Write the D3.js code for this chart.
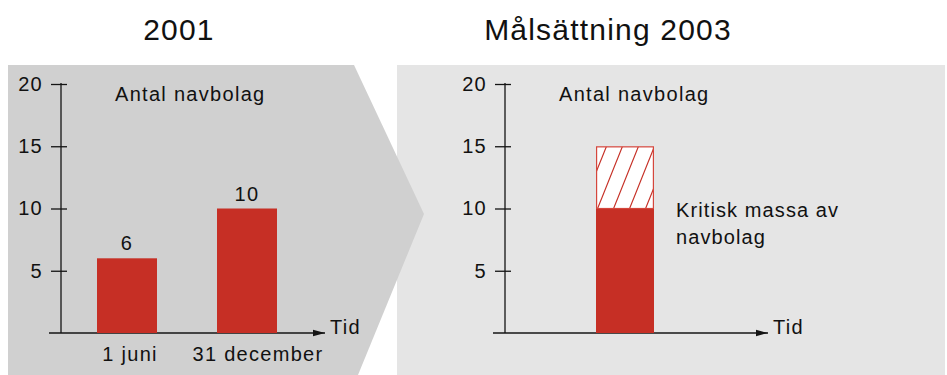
<!DOCTYPE html>
<html>
<head>
<meta charset="utf-8">
<script src="https://cdn.jsdelivr.net/npm/d3@7"></script>
<style>
  html, body { margin: 0; padding: 0; background: #ffffff; }
  svg { display: block; }
  text { font-family: "Liberation Sans", Arial, sans-serif; fill: #111; }
</style>
</head>
<body>
<svg id="chart" width="947" height="375"></svg>
<script>
// Number of hub companies ("navbolag") in 2001
const categories2001 = ["1 juni", "31 december"];
const values2001 = [6, 10];

// Target for 2003: current level plus the critical-mass increment
const category2003 = ["2003"];
const current2003 = [10];
const target2003 = [15];

const yTicks = [5, 10, 15, 20];
const titles = ["2001", "Målsättning 2003"];
const yAxisTitle = "Antal navbolag";
const xAxisTitle = "Tid";
const noteLines = ["Kritisk massa av", "navbolag"];

const RED = "#c62f25";
const INK = "#141414";
const FS = 20;
const LS = 1.3;

const svg = d3.select("#chart");

// Hatch pattern for the target increment
const defs = svg.append("defs");
defs.append("pattern")
  .attr("id", "hatch")
  .attr("patternUnits", "userSpaceOnUse")
  .attr("width", 16).attr("height", 40)
  .call(p => {
    p.append("rect").attr("width", 16).attr("height", 40).attr("fill", "#fff");
    p.append("path")
      .attr("d", "M0,40 L16,0 M-4,10 L4,-10 M12,50 L20,30")
      .attr("stroke", RED).attr("stroke-width", 1.2).attr("fill", "none");
  });
defs.append("marker")
  .attr("id", "arrow")
  .attr("viewBox", "0 0 12 8")
  .attr("refX", 12).attr("refY", 4)
  .attr("markerWidth", 12).attr("markerHeight", 8)
  .attr("markerUnits", "userSpaceOnUse")
  .attr("orient", "auto")
  .append("path").attr("d", "M0,0.8 L12,4 L0,7.2 Z").attr("fill", INK);

// Panel backgrounds: the right box sits behind the left arrow-shaped box
svg.append("rect")
  .attr("x", 397).attr("y", 65).attr("width", 548).attr("height", 310)
  .attr("fill", "#e5e5e5");
svg.append("path")
  .attr("d", "M8,65 L354,65 L424,214 L358,375 L8,375 Z")
  .attr("fill", "#d0d0d0");

// Panel titles
svg.selectAll("text.title")
  .data(titles)
  .join("text")
  .attr("class", "title")
  .attr("x", (d, i) => i === 0 ? 179 : 608)
  .attr("y", 40)
  .attr("text-anchor", "middle")
  .attr("font-size", 30)
  .attr("letter-spacing", 1.2)
  .text(d => d);

// Shared vertical scale
const y = d3.scaleLinear().domain([0, 20]).range([333, 84]);

function drawFrame(g, axisLen, xLeft) {
  // y axis with ticks crossing the line
  const yAxis = d3.axisLeft(y)
    .tickValues(yTicks)
    .tickSize(10)
    .tickPadding(8)
    .tickFormat(d3.format("d"));
  const ax = g.append("g").call(yAxis);
  ax.select(".domain").remove();
  ax.selectAll(".tick line")
    .attr("x1", -10).attr("x2", 6)
    .attr("stroke", INK).attr("stroke-width", 1.3);
  ax.selectAll(".tick text")
    .attr("font-family", "\"Liberation Sans\", Arial, sans-serif")
    .attr("font-size", FS)
    .attr("letter-spacing", LS)
    .attr("fill", INK);
  g.append("line")
    .attr("x1", 0).attr("x2", 0)
    .attr("y1", y(0)).attr("y2", y(20) - 1)
    .attr("stroke", INK).attr("stroke-width", 1.3);

  // x axis as an arrow
  g.append("line")
    .attr("x1", xLeft).attr("x2", axisLen)
    .attr("y1", y(0)).attr("y2", y(0))
    .attr("stroke", INK).attr("stroke-width", 1.3)
    .attr("marker-end", "url(#arrow)");
  g.append("text")
    .attr("x", axisLen + 5).attr("y", y(0) + 1)
    .attr("font-size", FS).attr("letter-spacing", LS)
    .text(xAxisTitle);

  g.append("text")
    .attr("x", 54).attr("y", 101)
    .attr("font-size", FS).attr("letter-spacing", LS)
    .text(yAxisTitle);
}

// ---- Left panel: 2001 ----
const gL = svg.append("g").attr("transform", "translate(61,0)");
const xL = d3.scaleBand()
  .domain(categories2001)
  .range([6, 246])
  .paddingInner(0.5)
  .paddingOuter(0.25);

drawFrame(gL, 264, -12);

gL.selectAll("rect.bar")
  .data(values2001)
  .join("rect")
  .attr("class", "bar")
  .attr("x", (d, i) => xL(categories2001[i]))
  .attr("width", xL.bandwidth())
  .attr("y", d => y(d))
  .attr("height", d => y(0) - y(d))
  .attr("fill", RED);

gL.selectAll("text.value")
  .data(values2001)
  .join("text")
  .attr("class", "value")
  .attr("x", (d, i) => xL(categories2001[i]) + xL.bandwidth() / 2)
  .attr("y", d => y(d) - 8)
  .attr("text-anchor", "middle")
  .attr("font-size", FS).attr("letter-spacing", LS)
  .text(d => d);

gL.selectAll("text.cat")
  .data(categories2001)
  .join("text")
  .attr("class", "cat")
  .attr("x", d => xL(d) + xL.bandwidth() / 2 + (d === "31 december" ? 11 : 3))
  .attr("y", 361)
  .attr("text-anchor", "middle")
  .attr("font-size", FS).attr("letter-spacing", LS)
  .text(d => d);

// ---- Right panel: target 2003 ----
const gR = svg.append("g").attr("transform", "translate(505,0)");
const xR = d3.scaleBand()
  .domain(category2003)
  .range([62, 178])
  .paddingInner(0.5)
  .paddingOuter(0.25);

drawFrame(gR, 263, -12);

gR.selectAll("rect.current")
  .data(current2003)
  .join("rect")
  .attr("class", "current")
  .attr("x", xR(category2003[0]))
  .attr("width", xR.bandwidth())
  .attr("y", d => y(d))
  .attr("height", d => y(0) - y(d))
  .attr("fill", RED);

gR.selectAll("rect.target")
  .data(target2003)
  .join("rect")
  .attr("class", "target")
  .attr("x", xR(category2003[0]) + 0.6)
  .attr("width", xR.bandwidth() - 1.2)
  .attr("y", d => y(d) + 0.6)
  .attr("height", (d, i) => y(current2003[i]) - y(d) - 0.6)
  .attr("fill", "url(#hatch)")
  .attr("stroke", "#d5463c")
  .attr("stroke-width", 1.2);

gR.append("text")
  .attr("font-size", FS).attr("letter-spacing", 1.1)
  .selectAll("tspan")
  .data(noteLines)
  .join("tspan")
  .attr("x", 171)
  .attr("y", (d, i) => 217 + i * 26.5)
  .text(d => d);
</script>
</body>
</html>
